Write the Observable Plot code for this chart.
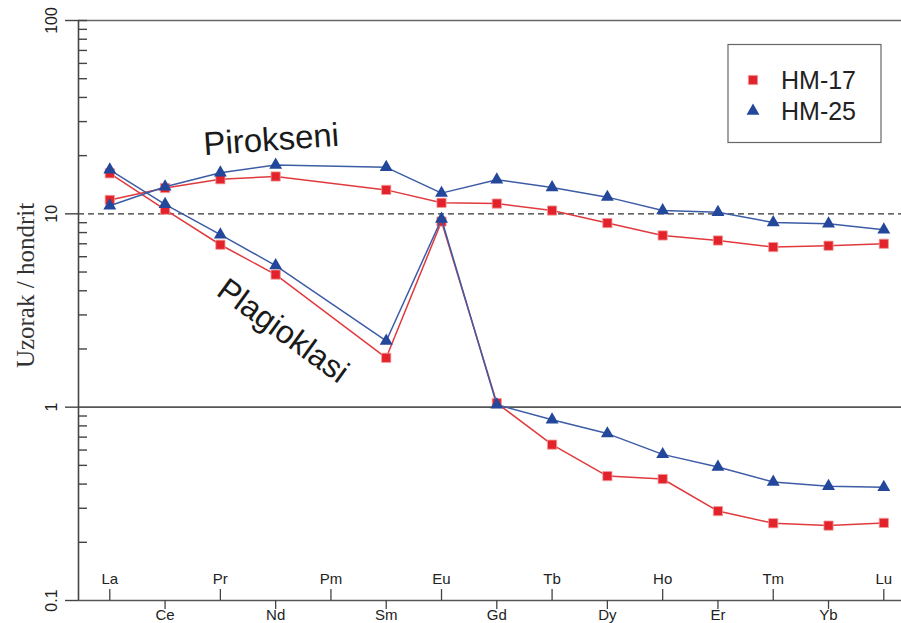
<!DOCTYPE html>
<html><head><meta charset="utf-8">
<script src="https://cdn.jsdelivr.net/npm/d3@7"></script>
<script src="https://cdn.jsdelivr.net/npm/@observablehq/plot@0.6"></script>
<style>
body{margin:0;background:#fff}
#chart{position:relative;width:901px;height:623px;overflow:hidden}
</style>
</head><body><div id="chart"></div>
<script>
// ---- data ----
const elements = ["La","Ce","Pr","Nd","Pm","Sm","Eu","Gd","Tb","Dy","Ho","Er","Tm","Yb","Lu"];
const samples = ["HM-17","HM-25"];
const minerals = ["Pirokseni","Plagioklasi"];
const hm17Pyroxene    = [11.8,13.6,15.1,15.6,null,13.3,11.4,11.3,10.4,8.96,7.73,7.28,6.73,6.84,7.0];
const hm25Pyroxene    = [11.0,13.8,16.3,17.9,null,17.4,12.8,15.0,13.7,12.2,10.4,10.2,9.02,8.88,8.27];
const hm17Plagioclase = [16.2,10.5,6.92,4.85,null,1.80,9.12,1.05,0.64,0.44,0.425,0.29,0.251,0.244,0.252];
const hm25Plagioclase = [16.9,11.2,7.8,5.4,null,2.2,9.4,1.03,0.86,0.73,0.57,0.49,0.41,0.39,0.385];
const yMajorTicks = [0.1,1,10,100];
const referenceLevels = [1,10];
const annotationLabels = ["Pirokseni","Plagioklasi"];
const annotationElement = [2.92,3.13];
const annotationValue = [24.1,2.48];
const yTitle = "Uzorak / hondrit";

// ---- build table ----
const series = [
  [hm17Pyroxene, samples[0], minerals[0]],
  [hm17Plagioclase, samples[0], minerals[1]],
  [hm25Pyroxene, samples[1], minerals[0]],
  [hm25Plagioclase, samples[1], minerals[1]]
];
const rows = [];
for (const [vals, s, m] of series) vals.forEach((v,i)=>{ if (v!=null) rows.push({i, element: elements[i], value: v, sample: s, mineral: m}); });
const rows17 = rows.filter(d=>d.sample===samples[0]);
const rows25 = rows.filter(d=>d.sample===samples[1]);
const minorTicks = [];
for (const base of [0.1,1,10]) for (let k=2;k<=9;k++) minorTicks.push(+(base*k).toPrecision(3));
minorTicks.push(100);
const evenIdx = elements.map((_,i)=>i).filter(i=>i%2===0);
const oddIdx = elements.map((_,i)=>i).filter(i=>i%2===1);

const RED = "#e3232c", RED_LINE = "#e03a3e", BLUE = "#23479b", BLUE_LINE = "#3d5ca6";
const SANS = "Liberation Sans, Arial, Helvetica, sans-serif";
const xMin = -0.566, xMax = 14.32;
const noLabel = () => "";

const chart = Plot.plot({
  width: 901, height: 623,
  marginLeft: 78, marginRight: 0, marginTop: 20, marginBottom: 23,
  style: {fontFamily: SANS, color: "#222", background: "#fff", overflow: "visible"},
  x: {type: "linear", domain: [xMin, xMax]},
  y: {type: "log", domain: [0.1, 100]},
  marks: [
    Plot.ruleY([100], {stroke: "#666", strokeWidth: 1.3}),
    Plot.ruleY([referenceLevels[1]], {stroke: "#333", strokeWidth: 1.3, strokeDasharray: "6,4"}),
    Plot.ruleY([referenceLevels[0]], {stroke: "#555", strokeWidth: 1.6}),
    Plot.ruleY([0.1], {stroke: "#555", strokeWidth: 1.6}),
    Plot.ruleX([xMin], {stroke: "#444", strokeWidth: 1.6}),
    // major y ticks outward with rotated labels
    Plot.axisY({ticks: yMajorTicks, tickSize: 13, tickPadding: 9, tickRotate: -90, tickFormat: d => String(d), fontSize: 16, label: null, stroke: "#444", strokeWidth: 1.4}),
    // minor y ticks inward
    Plot.axisY({ticks: minorTicks, tickSize: 9, dx: 9, tickFormat: noLabel, label: null, stroke: "#444", strokeWidth: 1.4}),
    // odd elements: ticks downward, labels below
    Plot.axisX({ticks: oddIdx, tickSize: 9, tickPadding: 0, tickFormat: i => elements[i], fontSize: 15, label: null, stroke: "#444", strokeWidth: 1.3}),
    // even elements: ticks upward, labels above
    Plot.axisX({ticks: evenIdx, tickSize: 11, dy: -11, tickFormat: noLabel, label: null, stroke: "#444", strokeWidth: 1.3}),
    Plot.axisX({ticks: evenIdx, tickSize: 0, tickPadding: -17, lineAnchor: "bottom", tickFormat: i => elements[i], fontSize: 15, label: null}),
    Plot.text([yTitle], {text: d => d, frameAnchor: "left", textAnchor: "middle", dx: -45, dy: -25, rotate: -90, lineAnchor: "bottom", fontFamily: "Liberation Serif, Times New Roman, serif", fontSize: 25, fill: "#333"}),
    Plot.text([0], {x: i => annotationElement[i], y: i => annotationValue[i], text: i => annotationLabels[i], rotate: -4, fontSize: 33, fill: "#1a1a1a"}),
    Plot.text([1], {x: i => annotationElement[i], y: i => annotationValue[i], text: i => annotationLabels[i], rotate: 36, fontSize: 32, fill: "#1a1a1a"}),
    Plot.line(rows17, {x: "i", y: "value", z: "mineral", stroke: RED_LINE, strokeWidth: 1.5}),
    Plot.dot(rows17, {x: "i", y: "value", symbol: "square", r: 5.2, fill: RED, stroke: "#f39a9a", strokeWidth: 0.8}),
    Plot.line(rows25, {x: "i", y: "value", z: "mineral", stroke: BLUE_LINE, strokeWidth: 1.5}),
    Plot.dot(rows25, {x: "i", y: "value", symbol: "triangle", r: 4.8, fill: BLUE})
  ]
});
document.getElementById("chart").appendChild(chart);

// ---- legend ----
const svg = d3.select(chart);
const lg = svg.append("g").attr("text-anchor", "start");
lg.append("rect").attr("x", 728).attr("y", 44.5).attr("width", 153).attr("height", 98)
  .attr("fill", "#fff").attr("stroke", "#666").attr("stroke-width", 1.2);
const legendItems = [
  {label: samples[0], type: d3.symbolSquare, size: Math.PI*5.2*5.2, fill: RED, stroke: "#f39a9a", cy: 80},
  {label: samples[1], type: d3.symbolTriangle, size: Math.PI*4.8*4.8, fill: BLUE, stroke: "none", cy: 111}
];
for (const it of legendItems) {
  lg.append("path").attr("d", d3.symbol(it.type, it.size)()).attr("transform", `translate(753,${it.cy})`)
    .attr("fill", it.fill).attr("stroke", it.stroke).attr("stroke-width", 0.8);
  lg.append("text").attr("x", 781).attr("y", it.cy + 9).attr("font-family", SANS).attr("font-size", 25)
    .attr("text-anchor", "start").attr("fill", "#222").text(it.label);
}
</script>
</body></html>
